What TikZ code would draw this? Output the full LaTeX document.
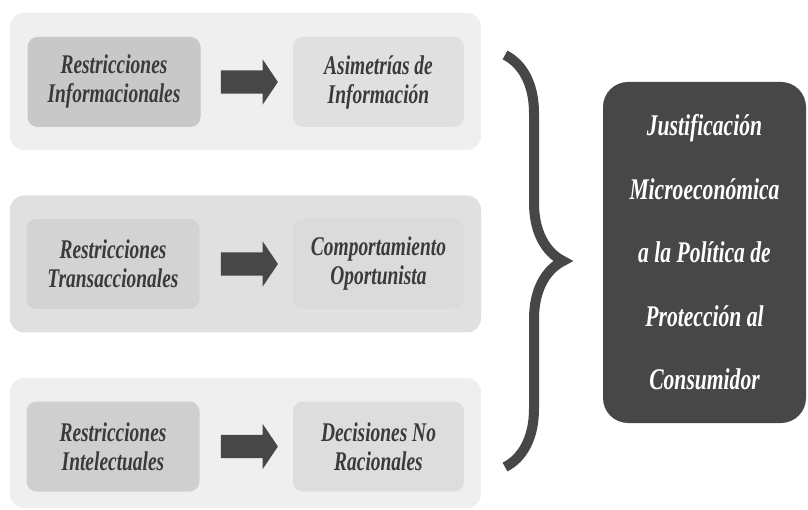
\documentclass[tikz,border=0pt]{standalone}
\usepackage{fontspec}
\newfontfamily\narrowserif[FakeStretch=0.72]{Liberation Serif}
\usepackage{tikz}
\usetikzlibrary{positioning, shapes.arrows, decorations.pathreplacing}

\definecolor{panellight}{HTML}{EFEFEF}
\definecolor{panelmid}{HTML}{E0E0E0}
\definecolor{causeone}{HTML}{C8C8C8}
\definecolor{causetwo}{HTML}{D3D3D3}
\definecolor{causethree}{HTML}{CFCFCF}
\definecolor{effectone}{HTML}{E0E0E0}
\definecolor{effecttwo}{HTML}{DBDBDB}
\definecolor{effectthree}{HTML}{DDDDDD}
\definecolor{inkgray}{HTML}{3A3A3A}
\definecolor{darkfill}{HTML}{474747}

\begin{document}
\begin{tikzpicture}[x=1pt, y=-1pt,
	panel/.style={rounded corners=14pt, minimum width=471pt, minimum height=137pt, inner sep=0pt},
	causebox/.style={rounded corners=10pt, minimum width=173pt, minimum height=90pt, inner sep=0pt,
		align=center, text=inkgray, font=\narrowserif\bfseries\itshape\fontsize{27}{29}\selectfont},
	effectbox/.style={causebox, minimum width=171pt},
	blockarrow/.style={single arrow, fill=darkfill, inner xsep=0pt, inner ysep=11.5pt,
		single arrow head extend=11pt, single arrow tip angle=112, minimum height=57pt},
	finalbox/.style={rounded corners=25pt, fill=darkfill, minimum width=203pt, minimum height=341pt,
		inner sep=0pt, align=center, text=white, font=\narrowserif\bfseries\itshape\fontsize{30}{63.5}\selectfont},
	bracestroke/.style={draw=darkfill, line width=10pt, decorate, decoration={brace, amplitude=58pt, aspect=0.5}}]

	\useasboundingbox (0,0) rectangle (808,510);

	% background panels
	\node (p1) [panel, fill=panellight] at (245.5,81.5) {};
	\node (p2) [panel, fill=panelmid] at (245.5,264) {};
	\node (p3) [panel, fill=panellight, minimum height=130pt] at (245.5,443) {};

	% informational
	\node (c1) [causebox, fill=causeone] at (114,82) {Restricciones\\Informacionales};
	\node (e1) [effectbox, fill=effectone] at (378.5,82) {Asimetrías de\\Información};
	\node (a1) [blockarrow, right=20pt of c1] {};

	% transactional
	\node (c2) [causebox, fill=causetwo] at (113,264) {Restricciones\\Transaccionales};
	\node (e2) [effectbox, fill=effecttwo] at (378.5,264) {Comportamiento\\Oportunista};
	\node (a2) [blockarrow, right=21pt of c2] {};

	% intellectual
	\node (c3) [causebox, fill=causethree] at (113,446.5) {Restricciones\\Intelectuales};
	\node (e3) [effectbox, fill=effectthree] at (378.5,446.5) {Decisiones No\\Racionales};
	\node (a3) [blockarrow, right=21pt of c3] {};

	\coordinate (bracetop) at (505,55);
	\coordinate (bracebot) at (505,467);
	\draw [bracestroke] (bracetop) -- (bracebot);

	\node (justif) [finalbox] at (704.5,252.5) {Justificación\\Microeconómica\\a la Política de\\Protección al\\Consumidor};
\end{tikzpicture}
\end{document}
